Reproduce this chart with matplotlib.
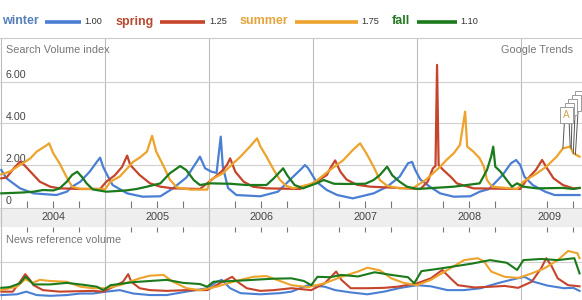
import numpy as np
import matplotlib
matplotlib.use("Agg")
import matplotlib.pyplot as plt
import matplotlib.transforms as mtransforms
from matplotlib.lines import Line2D

plt.rcParams['font.family'] = ['Liberation Sans', 'DejaVu Sans']

W, H = 582, 300

years = [2004, 2005, 2006, 2007, 2008, 2009]
series_names = ["winter", "spring", "summer", "fall"]
legend_values = [1.00, 1.25, 1.75, 1.10]
search_ticks = [0, 2, 4, 6]
search_tick_labels = ["0", "2.00", "4.00", "6.00"]

# search volume index, (decimal year, value)
winter = [(2004.00, 1.76), (2004.05, 1.36), (2004.18, 0.88), (2004.31, 0.64), (2004.53, 0.56),
          (2004.63, 0.72), (2004.68, 0.96), (2004.76, 1.20), (2004.85, 1.68), (2004.92, 2.16),
          (2004.95, 2.35), (2004.98, 1.90), (2005.01, 1.60), (2005.07, 1.04), (2005.21, 0.64),
          (2005.36, 0.48), (2005.53, 0.50), (2005.65, 0.88), (2005.78, 1.40), (2005.88, 2.16),
          (2005.91, 2.40), (2005.96, 1.84), (2006.02, 1.68), (2006.07, 1.62), (2006.11, 3.36),
          (2006.13, 1.92), (2006.18, 0.90), (2006.26, 0.56), (2006.49, 0.50), (2006.66, 0.72),
          (2006.79, 1.36), (2006.89, 1.84), (2006.92, 2.00), (2006.95, 1.85), (2006.99, 1.52),
          (2007.03, 1.20), (2007.13, 0.80), (2007.23, 0.56), (2007.38, 0.40), (2007.58, 0.64),
          (2007.71, 0.96), (2007.83, 1.44), (2007.91, 2.08), (2007.95, 2.15), (2007.98, 1.76),
          (2008.03, 1.30), (2008.12, 0.96), (2008.22, 0.64), (2008.35, 0.48), (2008.51, 0.50),
          (2008.60, 0.72), (2008.69, 0.85), (2008.82, 1.52), (2008.90, 2.08), (2008.95, 2.24),
          (2008.99, 2.00), (2009.03, 1.44), (2009.11, 1.04), (2009.23, 0.72), (2009.32, 0.56),
          (2009.56, 0.56)]
spring = [(2004.00, 1.36), (2004.05, 1.40), (2004.12, 1.84), (2004.18, 2.16), (2004.22, 2.00),
          (2004.28, 1.68), (2004.37, 1.20), (2004.47, 0.96), (2004.56, 0.88), (2004.76, 0.85),
          (2004.95, 0.85), (2005.01, 1.20), (2005.09, 1.50), (2005.16, 1.90), (2005.21, 2.45),
          (2005.24, 2.00), (2005.27, 1.84), (2005.33, 1.52), (2005.43, 1.12), (2005.53, 0.96),
          (2005.65, 0.88), (2005.91, 0.85), (2006.04, 1.36), (2006.12, 1.70), (2006.17, 2.00),
          (2006.20, 2.32), (2006.25, 1.68), (2006.33, 1.20), (2006.42, 0.96), (2006.55, 0.88),
          (2006.87, 0.85), (2007.03, 1.20), (2007.13, 1.52), (2007.17, 1.90), (2007.21, 2.22),
          (2007.26, 1.68), (2007.32, 1.30), (2007.42, 1.05), (2007.55, 0.96), (2007.90, 0.88),
          (2008.03, 0.85), (2008.10, 1.20), (2008.15, 1.84), (2008.175, 1.95), (2008.19, 6.80),
          (2008.205, 2.00), (2008.25, 1.76), (2008.32, 1.44), (2008.38, 1.12), (2008.54, 0.88),
          (2008.99, 0.85), (2009.05, 1.28), (2009.14, 1.76), (2009.20, 2.24), (2009.24, 1.90),
          (2009.31, 1.36), (2009.40, 1.04), (2009.50, 0.88), (2009.56, 0.90)]
summer = [(2004.00, 1.55), (2004.08, 1.68), (2004.18, 2.00), (2004.28, 2.32), (2004.34, 2.64),
          (2004.44, 2.96), (2004.46, 3.04), (2004.50, 2.56), (2004.56, 2.08), (2004.63, 1.40),
          (2004.68, 0.96), (2004.76, 0.86), (2005.00, 0.85), (2005.05, 1.20), (2005.14, 1.45),
          (2005.27, 2.16), (2005.33, 2.35), (2005.40, 2.64), (2005.45, 3.40), (2005.49, 2.64),
          (2005.56, 1.95), (2005.62, 1.30), (2005.69, 0.92), (2005.82, 0.82), (2005.98, 0.82),
          (2006.01, 1.28), (2006.13, 1.60), (2006.23, 2.08), (2006.30, 2.40), (2006.39, 2.88),
          (2006.46, 3.28), (2006.49, 2.90), (2006.55, 2.40), (2006.62, 1.76), (2006.68, 1.28),
          (2006.74, 1.00), (2006.81, 0.88), (2007.00, 1.12), (2007.16, 1.76), (2007.29, 2.24),
          (2007.38, 2.72), (2007.45, 3.04), (2007.51, 2.56), (2007.58, 1.92), (2007.64, 1.28),
          (2007.71, 1.00), (2007.83, 0.88), (2007.96, 0.90), (2008.08, 1.28), (2008.22, 1.92),
          (2008.28, 2.24), (2008.35, 2.56), (2008.41, 2.96), (2008.46, 4.56), (2008.48, 2.88),
          (2008.54, 2.64), (2008.60, 2.32), (2008.64, 1.92), (2008.67, 1.28), (2008.72, 0.96),
          (2008.96, 0.85), (2009.02, 1.20), (2009.15, 1.60), (2009.24, 1.92), (2009.34, 2.40),
          (2009.40, 2.80), (2009.47, 2.88), (2009.50, 2.56), (2009.56, 2.40)]
fall = [(2004.00, 0.64), (2004.20, 0.68), (2004.31, 0.72), (2004.40, 0.80), (2004.50, 0.78),
        (2004.56, 0.88), (2004.63, 1.20), (2004.68, 1.52), (2004.73, 1.68), (2004.78, 1.40),
        (2004.82, 1.12), (2004.88, 0.83), (2005.01, 0.72), (2005.20, 0.78), (2005.30, 0.85),
        (2005.40, 0.96), (2005.53, 1.12), (2005.62, 1.60), (2005.72, 1.95), (2005.78, 1.75),
        (2005.85, 1.28), (2005.91, 1.04), (2006.01, 1.12), (2006.20, 1.10), (2006.36, 1.04),
        (2006.55, 1.04), (2006.62, 1.36), (2006.68, 1.68), (2006.71, 1.84), (2006.75, 1.50),
        (2006.82, 1.04), (2006.90, 0.88), (2007.03, 1.12), (2007.10, 1.28), (2007.20, 1.10),
        (2007.32, 1.09), (2007.50, 1.10), (2007.58, 1.28), (2007.64, 1.52), (2007.71, 1.92),
        (2007.76, 1.50), (2007.83, 1.20), (2007.90, 0.96), (2008.00, 0.85), (2008.35, 0.96),
        (2008.60, 1.12), (2008.67, 1.76), (2008.71, 2.40), (2008.73, 2.88), (2008.75, 1.92),
        (2008.80, 1.68), (2008.86, 1.28), (2008.91, 0.96), (2008.96, 1.12), (2009.02, 0.96),
        (2009.15, 0.88), (2009.40, 0.90), (2009.50, 0.85), (2009.56, 0.90)]

# news reference volume, (decimal year, value)
news_winter = [(2004.00, 0.13), (2004.15, 0.15), (2004.24, 0.22), (2004.34, 0.13), (2004.47, 0.11),
               (2004.63, 0.13), (2004.76, 0.17), (2004.88, 0.17), (2005.01, 0.22), (2005.14, 0.26),
               (2005.27, 0.17), (2005.43, 0.13), (2005.59, 0.13), (2005.78, 0.22), (2005.98, 0.31),
               (2006.07, 0.48), (2006.12, 0.53), (2006.20, 0.31), (2006.30, 0.18), (2006.49, 0.15),
               (2006.68, 0.18), (2006.79, 0.22), (2006.95, 0.39), (2007.11, 0.35), (2007.21, 0.26),
               (2007.36, 0.20), (2007.52, 0.15), (2007.68, 0.22), (2007.84, 0.32), (2008.00, 0.39),
               (2008.13, 0.36), (2008.29, 0.26), (2008.45, 0.26), (2008.61, 0.31), (2008.77, 0.44),
               (2008.90, 0.53), (2009.03, 0.61), (2009.12, 0.48), (2009.25, 0.38), (2009.41, 0.31),
               (2009.50, 0.32), (2009.56, 0.24)]
news_spring = [(2004.00, 0.22), (2004.11, 0.22), (2004.18, 0.48), (2004.23, 0.68), (2004.27, 0.55),
               (2004.31, 0.39), (2004.40, 0.26), (2004.56, 0.22), (2004.88, 0.24), (2004.98, 0.22),
               (2005.08, 0.35), (2005.17, 0.48), (2005.22, 0.68), (2005.25, 0.48), (2005.33, 0.31),
               (2005.43, 0.26), (2005.59, 0.24), (2005.78, 0.26), (2005.98, 0.26), (2006.10, 0.44),
               (2006.22, 0.61), (2006.26, 0.50), (2006.36, 0.31), (2006.49, 0.24), (2006.62, 0.26),
               (2006.79, 0.31), (2006.98, 0.26), (2007.11, 0.44), (2007.22, 0.75), (2007.27, 0.53),
               (2007.36, 0.31), (2007.52, 0.31), (2007.68, 0.32), (2007.81, 0.35), (2008.00, 0.44),
               (2008.13, 0.57), (2008.24, 0.79), (2008.32, 0.57), (2008.39, 0.39), (2008.55, 0.33),
               (2008.71, 0.35), (2008.84, 0.37), (2008.97, 0.32), (2009.10, 0.48), (2009.19, 0.83),
               (2009.24, 1.10), (2009.29, 0.90), (2009.35, 0.57), (2009.45, 0.39), (2009.56, 0.36)]
news_summer = [(2004.00, 0.26), (2004.15, 0.35), (2004.23, 0.55), (2004.30, 0.45), (2004.37, 0.53),
               (2004.47, 0.50), (2004.63, 0.48), (2004.76, 0.35), (2004.88, 0.31), (2005.01, 0.31),
               (2005.14, 0.39), (2005.33, 0.57), (2005.43, 0.64), (2005.56, 0.66), (2005.65, 0.48),
               (2005.78, 0.31), (2005.91, 0.26), (2006.07, 0.35), (2006.23, 0.48), (2006.42, 0.61),
               (2006.55, 0.63), (2006.68, 0.50), (2006.79, 0.39), (2006.95, 0.34), (2007.11, 0.44),
               (2007.27, 0.61), (2007.43, 0.75), (2007.52, 0.85), (2007.64, 0.78), (2007.75, 0.57),
               (2007.87, 0.45), (2008.00, 0.39), (2008.13, 0.53), (2008.29, 0.79), (2008.45, 1.05),
               (2008.58, 1.10), (2008.64, 1.02), (2008.71, 0.75), (2008.84, 0.61), (2008.97, 0.58),
               (2009.10, 0.70), (2009.22, 0.83), (2009.35, 1.05), (2009.45, 1.29), (2009.54, 1.23),
               (2009.56, 1.10)]
news_fall = [(2004.00, 0.32), (2004.08, 0.34), (2004.18, 0.44), (2004.23, 0.61), (2004.26, 0.55),
             (2004.31, 0.41), (2004.47, 0.41), (2004.63, 0.45), (2004.79, 0.40), (2004.92, 0.35),
             (2004.98, 0.26), (2005.05, 0.39), (2005.27, 0.47), (2005.43, 0.50), (2005.59, 0.53),
             (2005.75, 0.45), (2005.91, 0.42), (2005.98, 0.35), (2006.04, 0.48), (2006.23, 0.50),
             (2006.42, 0.53), (2006.61, 0.56), (2006.79, 0.57), (2006.91, 0.50), (2006.98, 0.39),
             (2007.04, 0.61), (2007.16, 0.60), (2007.27, 0.66), (2007.43, 0.62), (2007.59, 0.73),
             (2007.75, 0.66), (2007.91, 0.60), (2007.97, 0.44), (2008.04, 0.76), (2008.20, 0.82),
             (2008.39, 0.90), (2008.53, 0.96), (2008.70, 1.05), (2008.86, 0.98), (2008.96, 0.79),
             (2009.02, 1.05), (2009.19, 1.08), (2009.35, 1.05), (2009.51, 1.10), (2009.56, 0.70)]

# news markers, drawn back to front; only the front one is readable
annot_dates = [2009.52, 2009.50, 2009.48, 2009.47, 2009.40]
annot_letters = ["", "", "", "", "A"]

line_colors = ["#4a7fd4", "#c6442b", "#eda32c", "#1b7a1b"]
name_colors = ["#5680bb", "#b74a30", "#e5a43c", "#237a23"]


def px2t(x):
    return 2004 + (x - 1.3) / 104.0


def main():
    fig = plt.figure(figsize=(W / 100, H / 100), dpi=100)
    xlim = (px2t(0), px2t(W))

    top = fig.add_axes([0, 1 - 208 / H, 1, 170 / H])
    band = fig.add_axes([0, 1 - 227 / H, 1, 19 / H])
    bot = fig.add_axes([0, 0, 1, 73 / H])

    for ax in (top, band, bot):
        ax.set_xlim(*xlim)
        ax.set_yticks([])
        ax.set_xticks([])
        for s in ax.spines.values():
            s.set_visible(False)
        for yr in years:
            ax.axvline(yr, color="#bdbdbd", lw=0.8, zorder=1)

    quarters = [yr + q for yr in years for q in (0.25, 0.5, 0.75) if yr + q < xlim[1]]

    # search volume panel
    top.set_ylim(-0.062, 8.09)
    top.spines["top"].set_visible(True)
    top.spines["top"].set_color("#cccccc")
    for v in search_ticks[1:]:
        top.axhline(v, color="#d0d0d0", lw=0.8, zorder=1)
    top.set_xticks(quarters)
    top.tick_params(axis="x", direction="in", length=5, width=0.8, color="#777777",
                    labelbottom=False)
    lab_tr = mtransforms.offset_copy(top.get_yaxis_transform(), fig=fig, x=0, y=1.2,
                                     units="dots")
    for v, lab in zip(search_ticks, search_tick_labels):
        top.text(6 / W, v, lab, transform=lab_tr, fontsize=7.7, color="#444444",
                 ha="left", va="bottom")
    top.text(6 / W, 1 - 7 / 170, "Search Volume index", transform=top.transAxes,
             fontsize=7.8, color="#777777", ha="left", va="top")
    top.text(1 - 9 / W, 1 - 7 / 170, "Google Trends", transform=top.transAxes,
             fontsize=7.8, color="#777777", ha="right", va="top")

    search = [winter, spring, summer, fall]
    for data, c in zip(search, line_colors):
        t, v = np.array(data).T
        top.plot(t, v, color=c, lw=1.6, solid_joinstyle="round", zorder=3)

    # news markers above the summer curve
    st, sv = np.array(summer).T
    for i, (d, letter) in enumerate(zip(annot_dates, annot_letters)):
        k = len(annot_dates) - 1 - i
        bx = px2t(566.5 + 3.2 * k)
        by = (206.7 - (115 - 4 * k)) / 20.85
        top.annotate(letter if letter else " ", xy=(d, np.interp(d, st, sv)),
                     xytext=(bx, by), textcoords="data", ha="center", va="center",
                     fontsize=7.2, color="#d2a446", zorder=5 + i,
                     bbox=dict(boxstyle="square,pad=0.32", fc="white", ec="#9a9a9a",
                               lw=0.7),
                     arrowprops=dict(arrowstyle="-", color="#555555", lw=0.7,
                                     relpos=(0.2, 0), shrinkA=0, shrinkB=0))

    # year band
    band.set_facecolor("#eeeeee")
    band.set_ylim(0, 1)
    for side in ("top", "bottom"):
        band.spines[side].set_visible(True)
        band.spines[side].set_color("#cccccc")
    for yr in years:
        mid = yr + 0.5 if yr < 2009 else (yr + xlim[1] - 0.05) / 2
        band.text(mid, 0.5, str(yr), fontsize=7.8, color="#444444", ha="center",
                  va="center")

    # news reference panel
    bot.set_ylim(0, 73 / 38)
    bot.axhline(1.0, color="#d0d0d0", lw=0.8, zorder=1)
    bot.set_xticks(quarters)
    bot.tick_params(axis="x", direction="in", length=3.6, width=0.8, color="#777777",
                    top=True, bottom=False, labelbottom=False)
    bot.text(6 / W, 1 - 8 / 73, "News reference volume", transform=bot.transAxes,
             fontsize=7.8, color="#777777", ha="left", va="top")
    news = [news_winter, news_spring, news_summer, news_fall]
    for data, c in zip(news, line_colors):
        t, v = np.array(data).T
        bot.plot(t, v, color=c, lw=1.5, solid_joinstyle="round", zorder=3)

    # legend row
    renderer = fig.canvas.get_renderer()
    x = 2.0
    y = 1 - 21.5 / H
    for name, val, lc, nc in zip(series_names, legend_values, line_colors, name_colors):
        txt = fig.text(x / W, y, name, fontsize=9, fontweight="bold", color=nc,
                       ha="left", va="center")
        x = txt.get_window_extent(renderer).x1 + 6.5
        length = 36 * val
        fig.add_artist(Line2D([x / W, (x + length) / W], [y, y], color=lc, lw=2.6,
                              solid_capstyle="butt"))
        x += length + 3.5
        vt = fig.text(x / W, y, f"{val:.2f}", fontsize=6.6, color="#333333",
                      ha="left", va="center")
        x = vt.get_window_extent(renderer).x1 + 13

    fig.savefig("out.png", dpi=100)


if __name__ == "__main__":
    main()
